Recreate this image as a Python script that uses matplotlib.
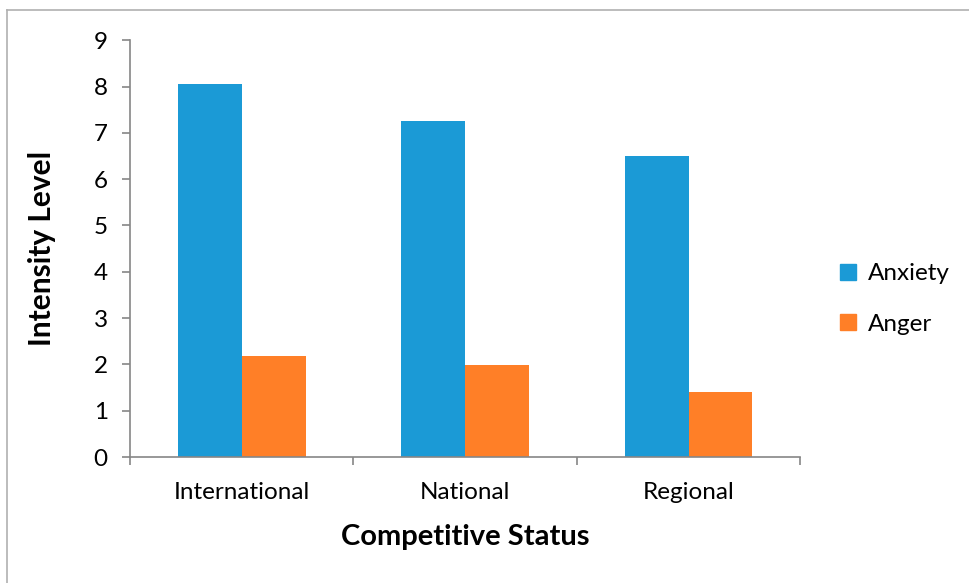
import matplotlib.pyplot as plt
from matplotlib.patches import Patch
from matplotlib.lines import Line2D

plt.rcParams['font.family'] = ['Lato', 'DejaVu Sans']

categories = ['International', 'National', 'Regional']
anxiety = [8.06, 7.26, 6.51]
anger = [2.19, 1.99, 1.40]

blue = '#1B9AD6'
orange = '#FF7F27'
axis_grey = '#868686'

fig = plt.figure(figsize=(9.7, 5.83), dpi=100)
ax = fig.add_axes([0.134, 0.216, 0.691, 0.715])

x = list(range(len(categories)))
w = 0.286
ax.bar([i - w / 2 for i in x], anxiety, width=w, color=blue, label='Anxiety')
ax.bar([i + w / 2 for i in x], anger, width=w, color=orange, label='Anger')

ax.set_xlim(-0.5, len(categories) - 0.5)
ax.set_ylim(0, 9)
ax.set_yticks(range(0, 10))

# ticks at category borders, labels at the middle
ax.set_xticks([i - 0.5 for i in range(len(categories) + 1)])
ax.set_xticklabels([])
ax.set_xticks(x, minor=True)
ax.set_xticklabels(categories, minor=True)
ax.tick_params(axis='x', which='minor', length=0, pad=18, labelsize=17.5)
ax.tick_params(axis='x', which='major', length=6, color=axis_grey, width=1.2)
ax.tick_params(axis='y', length=6, color=axis_grey, width=1.2, labelsize=17.5, pad=10)

for s in ['top', 'right']:
    ax.spines[s].set_visible(False)
for s in ['left', 'bottom']:
    ax.spines[s].set_color(axis_grey)
    ax.spines[s].set_linewidth(1.2)

ax.set_ylabel('Intensity Level', fontsize=21.5, fontweight='bold', labelpad=27)
ax.set_xlabel('Competitive Status', fontsize=21, fontweight='bold', labelpad=15)

handles = [Patch(color=blue, label='Anxiety'), Patch(color=orange, label='Anger')]
fig.legend(handles=handles, loc='center left', bbox_to_anchor=(0.866, 0.487),
           frameon=False, fontsize=17.5, handlelength=0.65, handleheight=0.65,
           handletextpad=0.5, labelspacing=1.2, borderpad=0, borderaxespad=0)

# outer chart border (left and top visible)
fig.add_artist(Line2D([0.007, 0.007], [0, 0.982], transform=fig.transFigure,
                      color='#b0b0b0', lw=1.2))
fig.add_artist(Line2D([0.007, 1], [0.982, 0.982], transform=fig.transFigure,
                      color='#b0b0b0', lw=1.2))

fig.savefig('out.png', dpi=100)
